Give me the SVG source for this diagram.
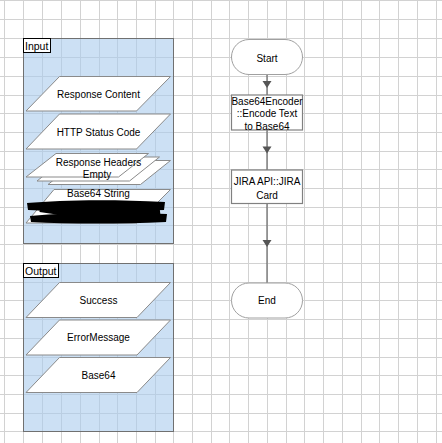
<svg xmlns="http://www.w3.org/2000/svg" xmlns:xlink="http://www.w3.org/1999/xlink" width="442" height="443" viewBox="0 0 442 443">
<defs>
<path id="ah" d="M-4.5 -3.5L4.5 -3.5L0 3.5Z" fill="#555"/>
</defs>
<style>
text{font-family:"Liberation Sans",Arial,sans-serif;font-size:10px;fill:#000;text-anchor:middle}
.grid{stroke:#d2d2d2;stroke-width:1;fill:none}
.cont{fill:rgb(170,203,237);fill-opacity:0.6;stroke:#707070;stroke-width:1}
.lbl{fill:#fff;stroke:#000;stroke-width:1}
.lbltxt{text-anchor:start;font-size:10.5px}
.para{fill:#fff;stroke:#8a8a8a;stroke-width:1}
.term{fill:#fff;stroke:#a0a0a0;stroke-width:1}
.proc{fill:#fff;stroke:#808080;stroke-width:1.2}
.conn{fill:none;stroke:#666;stroke-width:1.2}
</style>
<rect width="442" height="443" fill="#fff"/>
<path class="grid" d="M4.5 0V443M23.5 0V443M42.5 0V443M61.5 0V443M80.5 0V443M99.5 0V443M117.5 0V443M136.5 0V443M155.5 0V443M173.5 0V443M192.5 0V443M211.5 0V443M229.5 0V443M248.5 0V443M267.5 0V443M286.5 0V443M304.5 0V443M323.5 0V443M342.5 0V443M361.5 0V443M379.5 0V443M398.5 0V443M417.5 0V443M436.5 0V443M0 0.5H442M0 19.5H442M0 38.5H442M0 57.5H442M0 76.5H442M0 95.5H442M0 113.5H442M0 132.5H442M0 151.5H442M0 169.5H442M0 188.5H442M0 207.5H442M0 225.5H442M0 244.5H442M0 263.5H442M0 282.5H442M0 300.5H442M0 319.5H442M0 338.5H442M0 357.5H442M0 375.5H442M0 394.5H442M0 413.5H442M0 431.5H442"/>

<g id="input-container">
<rect class="cont" x="23.5" y="38.5" width="150" height="205"/>
<rect class="lbl" x="23.5" y="38.5" width="27" height="14"/>
<text class="lbltxt" x="25" y="49.5">Input</text>
</g>
<g id="output-container">
<rect class="cont" x="23.5" y="263.5" width="150" height="168"/>
<rect class="lbl" x="23.5" y="263.5" width="35" height="14"/>
<text class="lbltxt" x="25" y="274.5">Output</text>
</g>

<g id="in-response-content">
<polygon class="para" points="59.5,76.5 170.5,76.5 136.5,111 26,111"/>
<text x="98.5" y="98">Response Content</text>
</g>
<g id="in-http-status">
<polygon class="para" points="59.5,114 170.5,114 136.5,149 26,149"/>
<text x="98.5" y="136">HTTP Status Code</text>
</g>
<g id="in-response-headers">
<polygon class="para" points="78,160.5 170.5,160.5 140.5,184.5 48,184.5"/>
<polygon class="para" points="67,157 159.5,157 129.5,181 37,181"/>
<polygon class="para" points="56,153.5 148.5,153.5 118.5,177 26,177"/>
<text x="98.5" y="166">Response Headers</text>
<text x="97" y="178">Empty</text>
</g>
<g id="in-base64-string">
<polygon class="para" points="54,189.5 170.5,189.5 137,223 26,223"/>
<text x="98.5" y="197">Base64 String</text>
<path d="M27,203 C60,200 110,199 165,202 L164,210 C120,212 60,212 28,210 Z" fill="#000"/>
<path d="M30,216 C70,212 120,212 167,214 L166,222 C120,224 70,224 31,222 Z" fill="#000"/>
<path d="M40,209 C80,216 130,214 160,211" stroke="#000" stroke-width="6" fill="none"/>
</g>

<g id="out-success">
<polygon class="para" points="59.5,282.5 170.5,282.5 137,317.5 26,317.5"/>
<text x="98.5" y="304">Success</text>
</g>
<g id="out-errormessage">
<polygon class="para" points="59.5,320 170.5,320 137,355 26,355"/>
<text x="98.5" y="341">ErrorMessage</text>
</g>
<g id="out-base64">
<polygon class="para" points="59.5,357.5 170.5,357.5 137,392.5 26,392.5"/>
<text x="98.5" y="378.5">Base64</text>
</g>

<g id="connectors">
<path class="conn" d="M267 74.5V95"/>
<use href="#ah" xlink:href="#ah" x="267" y="84.5"/>
<path class="conn" d="M267 130V170"/>
<use href="#ah" xlink:href="#ah" x="267" y="150"/>
<path class="conn" d="M267 203.5V283"/>
<use href="#ah" xlink:href="#ah" x="267" y="243.5"/>
</g>

<g id="start">
<rect class="term" x="231.5" y="39.5" width="71" height="35" rx="17.5"/>
<text x="267" y="61.5">Start</text>
</g>
<g id="encode">
<rect class="proc" x="231.5" y="95" width="71" height="35"/>
<text x="267" y="104.5">Base64Encoder</text>
<text x="267" y="117">::Encode Text</text>
<text x="267" y="130">to Base64</text>
</g>
<g id="jira">
<rect class="proc" x="231.5" y="170" width="71" height="33.5"/>
<text x="267" y="185">JIRA API::JIRA</text>
<text x="267" y="198.5">Card</text>
</g>
<g id="end">
<rect class="term" x="231.5" y="283" width="71" height="35" rx="17.5"/>
<text x="267" y="303.5">End</text>
</g>
</svg>
